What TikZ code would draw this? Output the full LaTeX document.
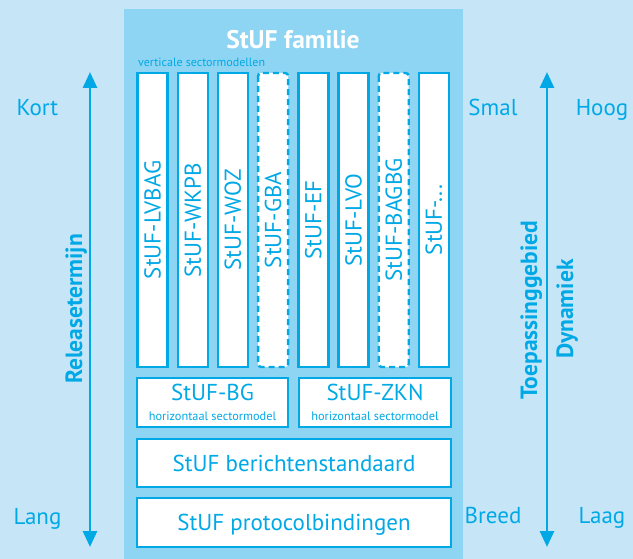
\documentclass[tikz,border=0pt]{standalone}
\usepackage{fontspec}
\setmainfont{PT Sans}
\usetikzlibrary{arrows.meta}
\begin{document}
\begin{tikzpicture}[x=1pt, y=-1pt]
            \definecolor{BGcolor}{RGB}{198, 230, 248}
            \definecolor{Pcolor}{RGB}{141, 213, 243}
            \definecolor{Scolor}{RGB}{0, 169, 230}
            \def\colwidth{30pt}
            \def\colheight{294pt}
            \def\colcenter{220}
            \def\bigfont{\fontsize{23}{25}\selectfont}
            \def\smallfont{\fontsize{12.3}{13}\selectfont}
            \tikzset{
                colbox/.style={draw=Scolor, line width=2.4pt, fill=white, rotate=90, minimum width=\colheight, minimum height=\colwidth, inner sep=0, text=Scolor, font=\bigfont},
                colboxdashed/.style={colbox, dash pattern=on 6pt off 4pt, rounded corners=3pt},
                layerbox/.style={draw=Scolor, line width=2.4pt, fill=white, inner sep=0, text=Scolor, font=\bigfont, align=center},
                axislabel/.style={text=Scolor, font=\bigfont, anchor=base},
                axistitle/.style={text=Scolor, font=\fontsize{23.5}{25}\selectfont\bfseries, anchor=base, rotate=90},
                axis/.style={draw=Scolor, line width=2.8pt, {Triangle[width=14pt, length=16pt]}-{Triangle[width=14pt, length=16pt]}}
            }
            \useasboundingbox (0, 0) rectangle (633, 559);
            \fill[BGcolor] (0, 0) rectangle (633, 559);
            \node[fill=Pcolor, minimum width=339pt, minimum height=551pt, inner sep=0, anchor=north west] (panel) at (124, 9) {};
            \node[text=white, font=\fontsize{25.5}{27}\selectfont\bfseries] (title) at (293, 40) {StUF familie};
            \node[text=Scolor, font=\fontsize{12}{13}\selectfont, anchor=west, inner sep=0] (vtext) at (138, 62) {verticale sectormodellen};
            % verticale sectormodellen
            \node[colbox] (LVBAG) at (152.5, \colcenter) {StUF-LVBAG};
            \node[colbox] (WKPB) at (192.7, \colcenter) {StUF-WKPB};
            \node[colbox] (WOZ) at (232.9, \colcenter) {StUF-WOZ};
            \node[colboxdashed] (GBA) at (273.1, \colcenter) {StUF-GBA};
            \node[colbox] (EF) at (313.3, \colcenter) {StUF-EF};
            \node[colbox] (LVO) at (353.5, \colcenter) {StUF-LVO};
            \node[colboxdashed] (BAGBG) at (393.7, \colcenter) {StUF-BAGBG};
            \node[colbox] (etc) at (433.9, \colcenter) {StUF-...};
            % horizontale sectormodellen en lagen
            \node[layerbox, minimum width=151pt, minimum height=49pt] (BG) at (212.5, 402.5) {StUF-BG\\[-5pt]{\smallfont horizontaal sectormodel}};
            \node[layerbox, minimum width=152pt, minimum height=49pt] (ZKN) at (375, 402.5) {StUF-ZKN\\[-5pt]{\smallfont horizontaal sectormodel}};
            \node[layerbox, text depth=0pt, minimum width=314pt, minimum height=48pt] (bericht) at (294, 463) {StUF berichtenstandaard};
            \node[layerbox, text depth=0pt, minimum width=314pt, minimum height=49pt] (protocol) at (294, 522.5) {StUF protocolbindingen};
            % assen
            \coordinate (RTtop) at (90, 72);
            \coordinate (RTbottom) at (90, 547);
            \coordinate (TGtop) at (547, 72);
            \coordinate (TGbottom) at (547, 547);
            \draw[axis] (RTtop) -- (RTbottom);
            \draw[axis] (TGtop) -- (TGbottom);
            \node[axislabel] (kort) at (37.5, 116) {Kort};
            \node[axislabel] (lang) at (37.5, 524) {Lang};
            \node[axislabel] (smal) at (493, 116) {Smal};
            \node[axislabel] (breed) at (493, 523) {Breed};
            \node[axislabel] (hoog) at (602, 116) {Hoog};
            \node[axislabel] (laag) at (602, 523) {Laag};
            \node[axistitle] (release) at (82, 309) {Releasetermijn};
            \node[axistitle] (toepassing) at (537, 310) {Toepassinggebied};
            \node[axistitle] (dynamiek) at (573, 309) {Dynamiek};
        \end{tikzpicture}
\end{document}
